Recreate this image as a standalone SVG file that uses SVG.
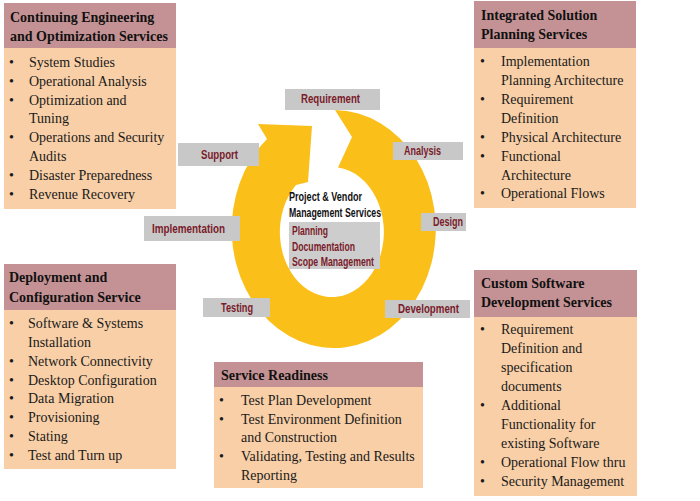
<svg xmlns="http://www.w3.org/2000/svg" width="700" height="501" viewBox="0 0 700 501">
<style>
.hd{fill:#C49294}
.bd{fill:#F8CFA7}
.ht{font-family:"Liberation Serif",serif;font-size:14px;font-weight:bold;fill:#111}
.bt{font-family:"Liberation Serif",serif;font-size:14px;fill:#1a1a1a}
.gb{fill:#C8C8C8}
.lb{font-family:"Liberation Sans",Arial,sans-serif;font-size:12px;font-weight:bold;fill:#7A1B2A}
.ct{font-family:"Liberation Sans",Arial,sans-serif;font-size:12px;font-weight:bold;fill:#111}
</style>
<rect width="700" height="501" fill="#fff"/>

<g id="connectors">
<path d="M335,110 A102,119 0 1 1 267,139 L258,124 L312,126 L308,182 L296,185 A52,65 0 1 0 338,167.5 L352,137 Z" fill="#FBBF1A"/>
</g>

<g id="continuing-engineering">
<rect class="hd" x="4" y="3" width="172" height="45"/>
<rect class="bd" x="4" y="48" width="172" height="161"/>
<text class="ht" x="10" y="22">Continuing Engineering</text>
<text class="ht" x="10" y="41">and Optimization Services</text>
<g class="bt">
<text x="9" y="67">•</text><text x="29" y="67">System Studies</text>
<text x="9" y="86">•</text><text x="29" y="86">Operational  Analysis</text>
<text x="9" y="105">•</text><text x="29" y="105">Optimization  and</text>
<text x="29" y="123">Tuning</text>
<text x="9" y="142">•</text><text x="29" y="142">Operations  and Security</text>
<text x="29" y="161">Audits</text>
<text x="9" y="180">•</text><text x="29" y="180">Disaster Preparedness</text>
<text x="9" y="199">•</text><text x="29" y="199">Revenue Recovery</text>
</g>
</g>

<g id="integrated-solution">
<rect class="hd" x="474" y="1" width="162" height="47"/>
<rect class="bd" x="474" y="48" width="162" height="160"/>
<text class="ht" x="481" y="20">Integrated Solution</text>
<text class="ht" x="481" y="39">Planning Services</text>
<g class="bt">
<text x="480" y="66">•</text><text x="501" y="66">Implementation</text>
<text x="501" y="85">Planning Architecture</text>
<text x="480" y="104">•</text><text x="501" y="104">Requirement</text>
<text x="501" y="123">Definition</text>
<text x="480" y="142">•</text><text x="501" y="142">Physical Architecture</text>
<text x="480" y="161">•</text><text x="501" y="161">Functional</text>
<text x="501" y="180">Architecture</text>
<text x="480" y="198">•</text><text x="501" y="198">Operational  Flows</text>
</g>
</g>

<g id="deployment-configuration">
<rect class="hd" x="4" y="264" width="172" height="46"/>
<rect class="bd" x="4" y="310" width="172" height="159"/>
<text class="ht" x="9" y="282">Deployment and</text>
<text class="ht" x="9" y="302">Configuration Service</text>
<g class="bt">
<text x="9" y="328">•</text><text x="28" y="328">Software &amp; Systems</text>
<text x="28" y="347">Installation</text>
<text x="9" y="366">•</text><text x="28" y="366">Network Connectivity</text>
<text x="9" y="385">•</text><text x="28" y="385">Desktop Configuration</text>
<text x="9" y="403">•</text><text x="28" y="403">Data Migration</text>
<text x="9" y="422">•</text><text x="28" y="422">Provisioning</text>
<text x="9" y="441">•</text><text x="28" y="441">Stating</text>
<text x="9" y="460">•</text><text x="28" y="460">Test and Turn up</text>
</g>
</g>

<g id="custom-software">
<rect class="hd" x="474" y="270" width="163" height="47"/>
<rect class="bd" x="474" y="317" width="163" height="179"/>
<text class="ht" x="481" y="288">Custom Software</text>
<text class="ht" x="481" y="307">Development Services</text>
<g class="bt">
<text x="480" y="334">•</text><text x="501" y="334">Requirement</text>
<text x="501" y="353">Definition and</text>
<text x="501" y="372">specification</text>
<text x="501" y="391">documents</text>
<text x="480" y="410">•</text><text x="501" y="410">Additional</text>
<text x="501" y="429">Functionality for</text>
<text x="501" y="448">existing Software</text>
<text x="480" y="467">•</text><text x="501" y="467">Operational  Flow thru</text>
<text x="480" y="486">•</text><text x="501" y="486">Security Management</text>
</g>
</g>

<g id="service-readiness">
<rect class="hd" x="214" y="362" width="209" height="25"/>
<rect class="bd" x="214" y="387" width="209" height="101"/>
<text class="ht" x="221" y="380">Service Readiness</text>
<g class="bt">
<text x="219" y="405">•</text><text x="241" y="405">Test Plan Development</text>
<text x="219" y="424">•</text><text x="241" y="424">Test Environment Definition</text>
<text x="241" y="442">and Construction</text>
<text x="219" y="461">•</text><text x="241" y="461">Validating,  Testing and Results</text>
<text x="241" y="480">Reporting</text>
</g>
</g>

<g id="requirement"><rect class="gb" x="285" y="89" width="95" height="21"/><text class="lb" x="301" y="103" textLength="59" lengthAdjust="spacingAndGlyphs">Requirement</text></g>
<g id="analysis"><rect class="gb" x="393" y="142" width="70" height="18"/><text class="lb" x="404" y="155" textLength="37" lengthAdjust="spacingAndGlyphs">Analysis</text></g>
<g id="support"><rect class="gb" x="178" y="143" width="81" height="23"/><text class="lb" x="201" y="159" textLength="37" lengthAdjust="spacingAndGlyphs">Support</text></g>
<g id="implementation"><rect class="gb" x="144" y="216" width="96" height="25"/><text class="lb" x="152" y="233" textLength="73" lengthAdjust="spacingAndGlyphs">Implementation</text></g>
<g id="design"><rect class="gb" x="421" y="213" width="45" height="18"/><text class="lb" x="433" y="226" textLength="30" lengthAdjust="spacingAndGlyphs">Design</text></g>
<g id="testing"><rect class="gb" x="203" y="298" width="67" height="19"/><text class="lb" x="221" y="312" textLength="32" lengthAdjust="spacingAndGlyphs">Testing</text></g>
<g id="development"><rect class="gb" x="385" y="300" width="85" height="18"/><text class="lb" x="398" y="313" textLength="61" lengthAdjust="spacingAndGlyphs">Development</text></g>

<g id="project-vendor">
<text class="ct" x="289" y="201" textLength="73" lengthAdjust="spacingAndGlyphs">Project &amp; Vendor</text>
<text class="ct" x="289" y="217" textLength="92" lengthAdjust="spacingAndGlyphs">Management Services</text>
<rect x="289" y="222" width="91" height="47" fill="#CDCDCD"/>
<text class="lb" x="292" y="235" textLength="36" lengthAdjust="spacingAndGlyphs">Planning</text>
<text class="lb" x="292" y="251" textLength="63" lengthAdjust="spacingAndGlyphs">Documentation</text>
<text class="lb" x="292" y="266" textLength="82" lengthAdjust="spacingAndGlyphs">Scope Management</text>
</g>
</svg>
